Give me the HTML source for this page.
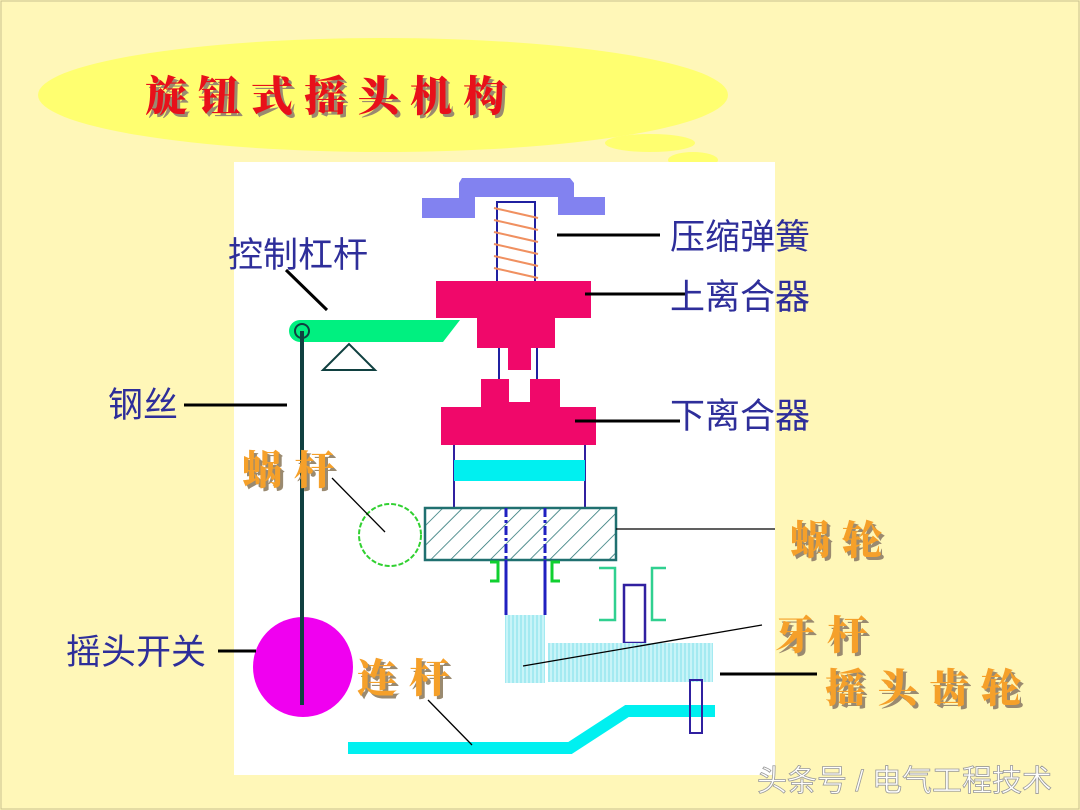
<!DOCTYPE html><html><head><meta charset="utf-8"><style>
body{margin:0;width:1080px;height:810px;overflow:hidden;background:#fff7b8}
svg{display:block}
.b{font-family:"Liberation Sans","Noto Sans CJK SC",sans-serif;font-size:35px;fill:#2e2e9a}
.o{font-family:"Noto Serif CJK SC","Noto Sans CJK SC",sans-serif;font-size:40px;font-weight:900;fill:#f5a02a;letter-spacing:12px}
.os{fill:#9a8a70}
</style></head><body>
<svg width="1080" height="810" viewBox="0 0 1080 810">
<defs><pattern id="h" width="14" height="14" patternUnits="userSpaceOnUse" patternTransform="rotate(45)"><line x1="0" y1="0" x2="0" y2="14" stroke="#207070" stroke-width="1.5"/></pattern>
<pattern id="v" width="4" height="4" patternUnits="userSpaceOnUse"><rect width="4" height="4" fill="#c8f4f8"/><line x1="1" y1="0" x2="1" y2="4" stroke="#80e0ea" stroke-width="1"/></pattern></defs>
<rect x="1" y="1" width="1078" height="808" fill="none" stroke="#c8c090"/>
<ellipse cx="383" cy="95" rx="345" ry="57" fill="#ffff70"/>
<ellipse cx="650" cy="143" rx="45" ry="9" fill="#ffff70"/>
<ellipse cx="693" cy="160" rx="25" ry="8" fill="#ffff70"/>
<text x="148" y="114" font-family="Noto Serif CJK SC,sans-serif" font-size="42" font-weight="900" fill="#9a8a70" letter-spacing="11">旋钮式摇头机构</text>
<text x="145" y="111" font-family="Noto Serif CJK SC,sans-serif" font-size="42" font-weight="900" fill="#e8101a" letter-spacing="11">旋钮式摇头机构</text>
<rect x="234" y="162" width="541" height="613" fill="#fff"/>
<path d="M462 178H570L574 183V197H605V215H558V197H475V218H422V198H459V183Z" fill="#8282f0"/>
<rect x="497" y="202" width="38" height="80" fill="none" stroke="#2020a0" stroke-width="2"/>
<g stroke="#f09060" stroke-width="2" fill="none">
<path d="M494 208L538 218M494 220L538 230M494 232L538 242M494 244L538 254M494 256L538 266M494 268L538 278"/></g>
<rect x="436" y="281" width="155" height="37" fill="#f0086a"/>
<rect x="477" y="317" width="78" height="31" fill="#f0086a"/>
<rect x="508" y="347" width="23" height="23" fill="#f0086a"/>
<path d="M499 348V380M537 348V380" stroke="#2020a0" stroke-width="2"/>
<path d="M481 379H509V402H530V379H560V407H596V445H441V407H481Z" fill="#f0086a"/>
<path d="M454 445V508M585 445V508" stroke="#3020a0" stroke-width="2"/>
<rect x="454" y="460" width="131" height="21" fill="#00f0f0"/>
<rect x="425" y="508" width="191" height="52" fill="url(#h)" stroke="#207070" stroke-width="2.5"/>
<path d="M506 508V615M545 508V615" stroke="#2020c0" stroke-width="3" stroke-dasharray="9 3 3 3"/>
<path d="M506 560V615M545 560V615" stroke="#2020c0" stroke-width="3"/>
<path d="M490 562H498V581H490M560 562H552V581H560" stroke="#10d030" stroke-width="3" fill="none"/>
<path d="M599 568H615V620H599M666 568H652V620H666" stroke="#30d090" stroke-width="2.5" fill="none"/>
<rect x="624" y="585" width="21" height="58" fill="none" stroke="#3020a0" stroke-width="2.5"/>
<rect x="505" y="615" width="40" height="68" fill="url(#v)"/>
<rect x="548" y="643" width="165" height="39" fill="url(#v)"/>
<polyline points="348,748 570,748 627,711 715,711" fill="none" stroke="#00f0f0" stroke-width="12"/>
<rect x="690" y="680" width="12" height="53" fill="none" stroke="#3020a0" stroke-width="2"/>
<circle cx="390" cy="535" r="31" fill="none" stroke="#30d030" stroke-width="2" stroke-dasharray="5 2"/>
<path d="M300 320H460L443 342H300A11 11 0 0 1 300 320Z" fill="#00f080"/>
<circle cx="302" cy="331" r="7" fill="none" stroke="#104040" stroke-width="2"/>
<path d="M323 370L349 344L375 370Z" fill="none" stroke="#104040" stroke-width="2"/>
<circle cx="303" cy="667" r="50" fill="#f000f0"/>
<line x1="302" y1="331" x2="302" y2="705" stroke="#104040" stroke-width="4"/>
<g stroke="#000" stroke-width="3">
<line x1="557" y1="235" x2="660" y2="235"/><line x1="585" y1="294" x2="685" y2="294"/>
<line x1="575" y1="421" x2="680" y2="421"/><line x1="286" y1="270" x2="327" y2="310"/>
<line x1="184" y1="405" x2="287" y2="405"/><line x1="218" y1="651" x2="256" y2="651"/>
<line x1="720" y1="674" x2="817" y2="674"/></g>
<g stroke="#000" stroke-width="1.3">
<line x1="616" y1="529" x2="775" y2="529"/><line x1="332" y1="478" x2="385" y2="532"/>
<line x1="523" y1="666" x2="762" y2="625"/><line x1="428" y1="700" x2="472" y2="745"/></g>
<text class="b" x="670" y="249">压缩弹簧</text>
<text class="b" x="670" y="309">上离合器</text>
<text class="b" x="670" y="428">下离合器</text>
<text class="b" x="228" y="267">控制杠杆</text>
<text class="b" x="108" y="417">钢丝</text>
<text class="b" x="66" y="664">摇头开关</text>
<g class="o">
<text class="os" x="245" y="487">蜗杆</text><text x="242" y="484">蜗杆</text>
<text class="os" x="793" y="557">蜗轮</text><text x="790" y="554">蜗轮</text>
<text class="os" x="778" y="652">牙杆</text><text x="775" y="649">牙杆</text>
<text class="os" x="828" y="705">摇头齿轮</text><text x="825" y="702">摇头齿轮</text>
<text class="os" x="360" y="695">连杆</text><text x="357" y="692">连杆</text>
</g>
<text x="757" y="791" font-family="Liberation Sans,Noto Sans CJK SC,sans-serif" font-size="30" fill="#fff" stroke="#999" stroke-width="0.8">头条号 / 电气工程技术</text>
</svg></body></html>
